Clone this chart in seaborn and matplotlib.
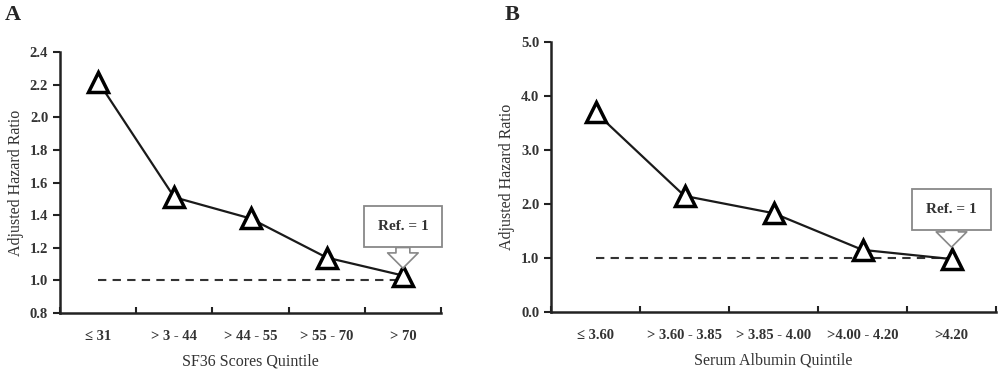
import matplotlib
matplotlib.use("Agg")
import matplotlib.pyplot as plt
import seaborn as sns
import numpy as np

sf36_cats = ["\u2264 31", "> 3 - 44", "> 44 - 55", "> 55 - 70", "> 70"]
sf36_hr = [2.22, 1.51, 1.38, 1.14, 1.03]
alb_cats = ["\u2264 3.60", "> 3.60 - 3.85", "> 3.85 - 4.00", ">4.00 - 4.20", ">4.20"]
alb_hr = [3.70, 2.15, 1.83, 1.15, 0.98]
sf36_yticks = [0.8, 1.0, 1.2, 1.4, 1.6, 1.8, 2.0, 2.2, 2.4]
alb_yticks = [0.0, 1.0, 2.0, 3.0, 4.0, 5.0]

sns.set_style("ticks")
plt.rcParams["font.family"] = ["Liberation Serif", "DejaVu Serif"]

fig = plt.figure(figsize=(10, 3.7), dpi=100)
axA = fig.add_axes([0.060, 0.154, 0.381, 0.705])
axB = fig.add_axes([0.551, 0.157, 0.445, 0.729])


def draw(ax, cats, vals, yticks, xlabel, ref_box_y, ref_tip_y):
    x = np.arange(len(cats))
    ax.plot([x[0], x[-1]], [1.0, 1.0], ls=(0, (4, 3)), color="#333333", lw=1.5, zorder=1)
    sns.lineplot(x=x, y=vals, ax=ax, color="#1a1a1a", lw=1.6, marker="^",
                 markersize=15, markerfacecolor="white", markeredgecolor="black",
                 markeredgewidth=2.5, zorder=3)
    ax.set_xlim(-0.5, len(cats) - 0.5)
    ax.set_ylim(yticks[0], yticks[-1])
    ax.set_yticks(yticks)
    ax.set_yticklabels([f"{t:.1f}" for t in yticks], fontsize=10.5, fontweight="bold", color="#333333")
    ax.set_xticks(x)
    ax.set_xticklabels(cats, fontsize=10.5, fontweight="bold", color="#333333")
    ax.set_xticks(np.arange(-0.5, len(cats)), minor=True)
    ax.tick_params(axis="x", which="major", length=0, pad=12)
    ax.tick_params(axis="x", which="minor", length=4, width=1.5, color="#222222", direction="in")
    ax.tick_params(axis="y", length=5, width=1.5, color="#222222")
    for s in ["left", "bottom"]:
        ax.spines[s].set_linewidth(1.8)
        ax.spines[s].set_color("#222222")
    sns.despine(ax=ax)
    ax.set_xlabel(xlabel, fontsize=11.5, color="#333333", labelpad=8)
    ax.set_ylabel("Adjusted Hazard Ratio", fontsize=11.5, color="#333333")
    ax.annotate("Ref. = 1", xy=(x[-1], ref_tip_y), xytext=(x[-1], ref_box_y),
                ha="center", va="center", fontsize=11, fontweight="bold", color="#333333",
                bbox=dict(boxstyle="square,pad=0.9", fc="white", ec="#888888", lw=1.3),
                arrowprops=dict(arrowstyle="simple,head_length=0.55,head_width=1.1,tail_width=0.5",
                                mutation_scale=20, fc="white", ec="#888888", lw=1.2,
                                shrinkA=0, shrinkB=0),
                zorder=4)


draw(axA, sf36_cats, sf36_hr, sf36_yticks, "SF36 Scores Quintile", 1.33, 1.075)
draw(axB, alb_cats, alb_hr, alb_yticks, "Serum Albumin Quintile", 1.9, 1.2)

fig.text(0.005, 0.96, "A", fontsize=16, fontweight="bold", va="center")
fig.text(0.505, 0.96, "B", fontsize=16, fontweight="bold", va="center")

fig.savefig("out.png", dpi=100)
